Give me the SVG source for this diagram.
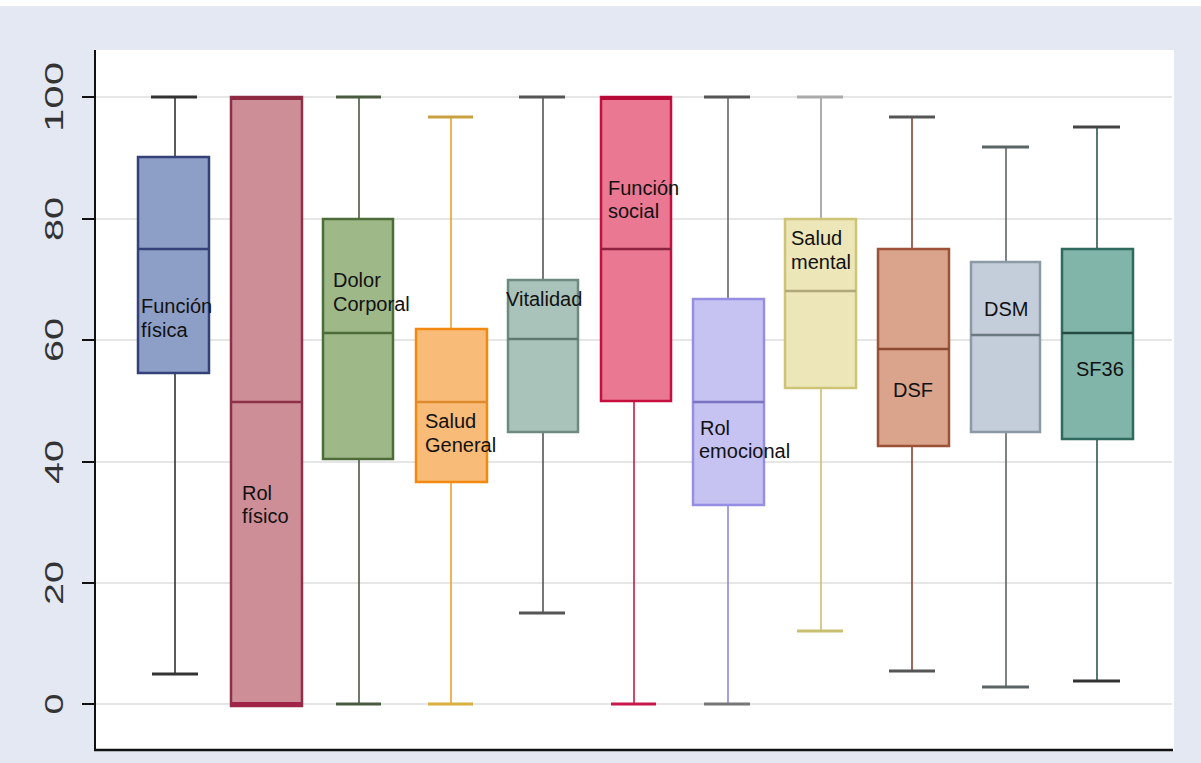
<svg xmlns="http://www.w3.org/2000/svg" width="1201" height="763" viewBox="0 0 1201 763">
<style>
.lbl{font-family:"Liberation Sans",Arial,sans-serif;font-size:20px;fill:#111}
.ylab{font-family:"Liberation Sans",Arial,sans-serif;font-size:25px;fill:#333;text-anchor:middle}
.grid{stroke:#dedede;stroke-width:1.5}
.tick{stroke:#111;stroke-width:2}
.box{stroke-width:2.5}
.wh{stroke-width:1.6;fill:none}
.cap{stroke-width:3}
</style>
<rect x="0" y="0" width="1201" height="763" fill="#e3e8f2"/>
<rect x="0" y="0" width="1201" height="6" fill="#ffffff"/>
<rect x="96" y="50" width="1078" height="701" fill="#ffffff"/>
<g id="grid">
<line class="grid" x1="96" y1="97" x2="1172" y2="97"/>
<line class="grid" x1="96" y1="219" x2="1172" y2="219"/>
<line class="grid" x1="96" y1="340" x2="1172" y2="340"/>
<line class="grid" x1="96" y1="462" x2="1172" y2="462"/>
<line class="grid" x1="96" y1="583" x2="1172" y2="583"/>
<line class="grid" x1="96" y1="704" x2="1172" y2="704"/>
</g>
<g id="axes">
<line x1="95" y1="50" x2="95" y2="751" stroke="#111" stroke-width="2"/>
<line x1="94" y1="750" x2="1173" y2="750" stroke="#111" stroke-width="2.5"/>
<line class="tick" x1="82" y1="97" x2="95" y2="97"/>
<line class="tick" x1="82" y1="219" x2="95" y2="219"/>
<line class="tick" x1="82" y1="340" x2="95" y2="340"/>
<line class="tick" x1="82" y1="462" x2="95" y2="462"/>
<line class="tick" x1="82" y1="583" x2="95" y2="583"/>
<line class="tick" x1="82" y1="704" x2="95" y2="704"/>
<text class="ylab" transform="translate(63,97) rotate(-90)" textLength="70" lengthAdjust="spacingAndGlyphs">100</text>
<text class="ylab" transform="translate(63,219) rotate(-90)" textLength="44" lengthAdjust="spacingAndGlyphs">80</text>
<text class="ylab" transform="translate(63,340) rotate(-90)" textLength="44" lengthAdjust="spacingAndGlyphs">60</text>
<text class="ylab" transform="translate(63,462) rotate(-90)" textLength="44" lengthAdjust="spacingAndGlyphs">40</text>
<text class="ylab" transform="translate(63,583) rotate(-90)" textLength="44" lengthAdjust="spacingAndGlyphs">20</text>
<text class="ylab" transform="translate(63,704) rotate(-90)" textLength="21" lengthAdjust="spacingAndGlyphs">0</text>
</g>
<g id="connectors">
<g stroke="#333">
<line class="wh" x1="175" y1="97" x2="175" y2="157"/><line class="wh" x1="175" y1="373" x2="175" y2="674"/>
<line class="cap" x1="151" y1="97" x2="197" y2="97"/><line class="cap" x1="152" y1="674" x2="198" y2="674"/>
</g>
<g stroke="#4a5a40">
<line class="wh" x1="359" y1="97" x2="359" y2="219"/><line class="wh" x1="359" y1="459" x2="359" y2="704"/>
<line class="cap" x1="336" y1="97" x2="381" y2="97"/><line class="cap" x1="336" y1="704" x2="381" y2="704"/>
</g>
<g stroke="#e9a030">
<line class="wh" x1="451" y1="117" x2="451" y2="329"/><line class="wh" x1="451" y1="482" x2="451" y2="704"/>
<line class="cap" x1="428" y1="117" x2="473" y2="117" stroke="#c8a040"/><line class="cap" x1="428" y1="704" x2="473" y2="704" stroke="#d8b040"/>
</g>
<g stroke="#555">
<line class="wh" x1="543" y1="97" x2="543" y2="280"/><line class="wh" x1="543" y1="432" x2="543" y2="613"/>
<line class="cap" x1="519" y1="97" x2="565" y2="97"/><line class="cap" x1="519" y1="613" x2="565" y2="613"/>
</g>
<g stroke="#c8174a">
<line class="wh" x1="634" y1="401" x2="634" y2="704"/>
<line class="cap" x1="611" y1="704" x2="656" y2="704"/>
</g>
<g stroke="#8f88d8">
<line class="wh" x1="728" y1="97" x2="728" y2="299" stroke="#666"/><line class="wh" x1="728" y1="505" x2="728" y2="704"/>
<line class="cap" x1="704" y1="97" x2="750" y2="97" stroke="#555"/><line class="cap" x1="704" y1="704" x2="750" y2="704" stroke="#777"/>
</g>
<g stroke="#c8c070">
<line class="wh" x1="821" y1="97" x2="821" y2="219" stroke="#999"/><line class="wh" x1="821" y1="388" x2="821" y2="631"/>
<line class="cap" x1="797" y1="97" x2="843" y2="97" stroke="#aaa"/><line class="cap" x1="797" y1="631" x2="843" y2="631"/>
</g>
<g stroke="#8a4030">
<line class="wh" x1="912" y1="117" x2="912" y2="249"/><line class="wh" x1="912" y1="446" x2="912" y2="671"/>
<line class="cap" x1="889" y1="117" x2="935" y2="117" stroke="#555"/><line class="cap" x1="889" y1="671" x2="935" y2="671" stroke="#555"/>
</g>
<g stroke="#5a6464">
<line class="wh" x1="1006" y1="147" x2="1006" y2="262"/><line class="wh" x1="1006" y1="432" x2="1006" y2="687"/>
<line class="cap" x1="982" y1="147" x2="1029" y2="147"/><line class="cap" x1="982" y1="687" x2="1029" y2="687"/>
</g>
<g stroke="#2f5550">
<line class="wh" x1="1097" y1="127" x2="1097" y2="249"/><line class="wh" x1="1097" y1="439" x2="1097" y2="681"/>
<line class="cap" x1="1073" y1="127" x2="1120" y2="127" stroke="#444"/><line class="cap" x1="1073" y1="681" x2="1120" y2="681" stroke="#333"/>
</g>
</g>
<g id="funcion-fisica">
<rect class="box" x="138" y="157" width="71" height="216" fill="#8d9fc6" stroke="#34407a"/>
<line x1="138" y1="249" x2="209" y2="249" stroke="#34407a" stroke-width="2.5"/>
<text class="lbl" x="141" y="313">Función</text><text class="lbl" x="141" y="337">física</text>
</g>
<g id="rol-fisico">
<rect class="box" x="231" y="97" width="71" height="609" fill="#cd8e98" stroke="#8e3048"/>
<rect x="231" y="96" width="71" height="4" fill="#8e2a42"/>
<rect x="231" y="702" width="71" height="5" fill="#a02448"/>
<line x1="231" y1="402" x2="302" y2="402" stroke="#8e3048" stroke-width="2.5"/>
<text class="lbl" x="242" y="500">Rol</text><text class="lbl" x="242" y="523">físico</text>
</g>
<g id="dolor-corporal">
<rect class="box" x="323" y="219" width="70" height="240" fill="#9fb888" stroke="#4e6b3a"/>
<line x1="323" y1="333" x2="393" y2="333" stroke="#4e6b3a" stroke-width="2.5"/>
<text class="lbl" x="333" y="287">Dolor</text><text class="lbl" x="333" y="311">Corporal</text>
</g>
<g id="salud-general">
<rect class="box" x="416" y="329" width="71" height="153" fill="#f8bb78" stroke="#f28a12"/>
<line x1="416" y1="402" x2="487" y2="402" stroke="#e08a30" stroke-width="2.5"/>
<text class="lbl" x="425" y="428">Salud</text><text class="lbl" x="425" y="452">General</text>
</g>
<g id="vitalidad">
<rect class="box" x="508" y="280" width="70" height="152" fill="#aac3ba" stroke="#6e8a80"/>
<line x1="508" y1="339" x2="578" y2="339" stroke="#5e7a70" stroke-width="2.5"/>
<text class="lbl" x="506" y="306">Vitalidad</text>
</g>
<g id="funcion-social">
<rect class="box" x="601" y="97" width="70" height="304" fill="#ea7893" stroke="#c4103f"/>
<rect x="601" y="96" width="70" height="4" fill="#b80a38"/>
<line x1="601" y1="249" x2="671" y2="249" stroke="#8e2040" stroke-width="2.5"/>
<text class="lbl" x="608" y="195">Función</text><text class="lbl" x="608" y="218">social</text>
</g>
<g id="rol-emocional">
<rect class="box" x="693" y="299" width="71" height="206" fill="#c6c2f2" stroke="#958ee2"/>
<line x1="693" y1="402" x2="764" y2="402" stroke="#7a74c0" stroke-width="2.5"/>
<text class="lbl" x="700" y="435">Rol</text><text class="lbl" x="699" y="458">emocional</text>
</g>
<g id="salud-mental">
<rect class="box" x="785" y="219" width="71" height="169" fill="#ece6b8" stroke="#cdc478"/>
<line x1="785" y1="291" x2="856" y2="291" stroke="#b0a878" stroke-width="2.5"/>
<text class="lbl" x="791" y="245">Salud</text><text class="lbl" x="791" y="269">mental</text>
</g>
<g id="dsf">
<rect class="box" x="878" y="249" width="71" height="197" fill="#daa38b" stroke="#9c5236"/>
<line x1="878" y1="349" x2="949" y2="349" stroke="#8a4a32" stroke-width="2.5"/>
<text class="lbl" x="893" y="397">DSF</text>
</g>
<g id="dsm">
<rect class="box" x="971" y="262" width="69" height="170" fill="#c4cdda" stroke="#8c9aa6"/>
<line x1="971" y1="335" x2="1040" y2="335" stroke="#6a7a80" stroke-width="2.5"/>
<text class="lbl" x="984" y="316">DSM</text>
</g>
<g id="sf36">
<rect class="box" x="1062" y="249" width="71" height="190" fill="#82b5aa" stroke="#2f6a5e"/>
<line x1="1062" y1="333" x2="1133" y2="333" stroke="#244a44" stroke-width="2.5"/>
<text class="lbl" x="1076" y="376">SF36</text>
</g>
</svg>
